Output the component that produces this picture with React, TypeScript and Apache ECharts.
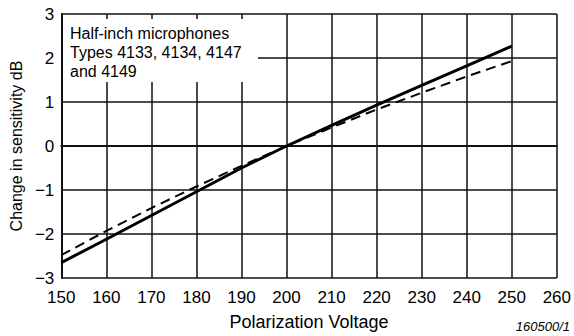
import React, { useEffect, useRef } from "react";
import * as echarts from "echarts";

const voltages = [150, 160, 170, 180, 190, 200, 210, 220, 230, 240, 250];
const solidValues = [-2.65, -2.12, -1.58, -1.04, -0.5, 0, 0.47, 0.93, 1.38, 1.82, 2.27];
const dashedValues = [-2.48, -1.93, -1.41, -0.92, -0.45, 0, 0.42, 0.83, 1.21, 1.58, 1.93];
const annotationLines = ["Half-inch microphones", "Types 4133, 4134, 4147", "and 4149"];
const xTitle = "Polarization Voltage";
const yTitle = "Change in sensitivity dB";
const figId = "160500/1";

const FONT = "'Liberation Sans', Arial, Helvetica, sans-serif";

export default function App() {
  const ref = useRef<HTMLDivElement>(null);
  useEffect(() => {
    if (!ref.current) return;
    const chart = echarts.init(ref.current, undefined, { renderer: "svg" });
    const solid = voltages.map((v, i) => [v, solidValues[i]]);
    const dashed = voltages.map((v, i) => [v, dashedValues[i]]);
    chart.setOption({
      animation: false,
      backgroundColor: "#fff",
      grid: { left: 61, right: 15, top: 14, bottom: 51 },
      xAxis: {
        type: "value",
        min: 150,
        max: 260,
        interval: 10,
        axisLine: { show: true, lineStyle: { color: "#111", width: 2 } },
        axisTick: { show: false },
        splitLine: { show: true, lineStyle: { color: "#111", width: 1.5 } },
        axisLabel: { color: "#000", fontSize: 17, fontFamily: FONT, margin: 11 },
        name: xTitle,
        nameLocation: "middle",
        nameGap: 35,
        nameTextStyle: { color: "#000", fontSize: 18, fontFamily: FONT },
      },
      yAxis: {
        type: "value",
        min: -3,
        max: 3,
        interval: 1,
        axisLine: { show: true, lineStyle: { color: "#111", width: 2 } },
        axisTick: { show: false },
        splitLine: { show: true, lineStyle: { color: "#111", width: 1.5 } },
        axisLabel: {
          color: "#000",
          fontSize: 17,
          fontFamily: FONT,
          margin: 7,
          formatter: (v: number) => String(v).replace("-", "\u2212"),
        },
        name: yTitle,
        nameLocation: "middle",
        nameGap: 37,
        nameRotate: 90,
        nameTextStyle: { color: "#000", fontSize: 16, fontFamily: FONT },
      },
      graphic: [
        {
          type: "rect",
          shape: { x: 63, y: 19, width: 195, height: 63 },
          style: { fill: "#fff" },
          z: 10,
        },
        {
          type: "text",
          x: 70,
          y: 24,
          z: 11,
          style: {
            text: annotationLines.join("\n"),
            fill: "#000",
            font: `16px ${FONT}`,
            lineHeight: 19,
          },
        },
        {
          type: "text",
          right: 4,
          top: 320,
          style: {
            text: figId,
            fill: "#000",
            font: `italic 13px ${FONT}`,
          },
        },
      ],
      series: [
        {
          type: "line",
          data: solid,
          showSymbol: false,
          lineStyle: { color: "#000", width: 3 },
          z: 5,
        },
        {
          type: "line",
          data: dashed,
          showSymbol: false,
          lineStyle: { color: "#000", width: 2, type: [10, 6] },
          z: 5,
        },
      ],
    });
    return () => chart.dispose();
  }, []);
  return <div ref={ref} style={{ width: 574, height: 336, position: "absolute", left: 0, top: 0 }} />;
}
